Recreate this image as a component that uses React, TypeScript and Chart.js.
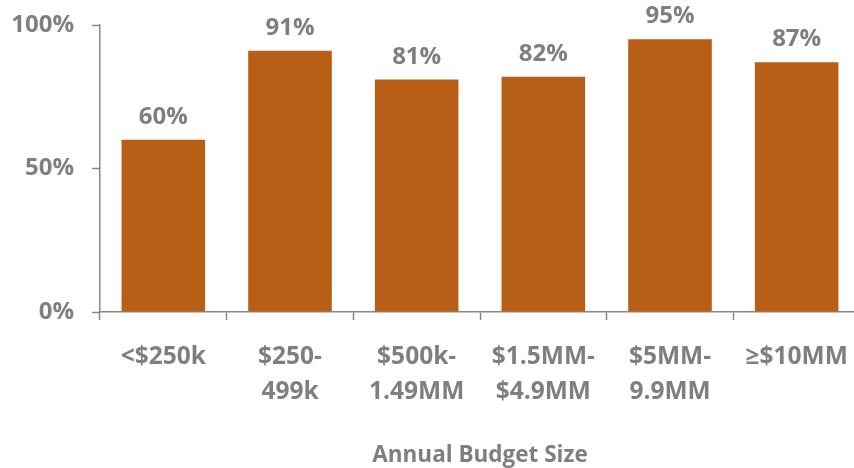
import React, { useEffect, useRef } from "react";
import { Chart, registerables } from "chart.js";

Chart.register(...registerables);

const categories: (string | string[])[] = [
  "<$250k",
  ["$250-", "499k"],
  ["$500k-", "1.49MM"],
  ["$1.5MM-", "$4.9MM"],
  ["$5MM-", "9.9MM"],
  "≥$10MM",
];
const values = [60, 91, 81, 82, 95, 87];
const yTicks = [0, 50, 100];
const axisTitle = "Annual Budget Size";

const BAR = "#B85E16";
const TEXT = "#7F7F7F";
const AXIS = "#888888";
const FONT = "'Open Sans', 'Noto Sans', sans-serif";

const labelPlugin = {
  id: "barLabels",
  afterDatasetsDraw(chart: any) {
    const ctx = chart.ctx;
    const meta = chart.getDatasetMeta(0);
    ctx.save();
    ctx.font = `bold 24px ${FONT}`;
    ctx.fillStyle = TEXT;
    ctx.textAlign = "center";
    ctx.textBaseline = "alphabetic";
    meta.data.forEach((bar: any, i: number) => {
      ctx.fillText(`${values[i]}%`, bar.x, bar.y - 16);
    });
    ctx.restore();
  },
};

export default function App() {
  const ref = useRef<HTMLCanvasElement>(null);
  useEffect(() => {
    document.documentElement.style.overflow = "hidden";
    document.body.style.overflow = "hidden";
    const chart = new Chart(ref.current!, {
      type: "bar",
      data: {
        labels: categories,
        datasets: [
          {
            data: values,
            backgroundColor: BAR,
            borderWidth: 0,
            barPercentage: 0.66,
            categoryPercentage: 1,
          },
        ],
      },
      plugins: [labelPlugin],
      options: {
        animation: false,
        responsive: false,
        devicePixelRatio: 1,
        layout: { padding: { top: 25, right: 10, bottom: 0, left: 0 } },
        plugins: { legend: { display: false }, tooltip: { enabled: false } },
        scales: {
          x: {
            afterFit: (s: any) => {
              s.height = 156;
            },
            grid: {
              display: true,
              offset: true,
              drawOnChartArea: false,
              drawTicks: true,
              tickLength: 8,
              tickWidth: 1.5,
              color: AXIS,
            },
            border: { display: true, color: AXIS, width: 1.5 },
            ticks: {
              color: TEXT,
              font: { family: FONT, size: 24.5, weight: "bold", lineHeight: 1.42 },
              padding: 20,
              maxRotation: 0,
              autoSkip: false,
            },
            title: {
              display: true,
              text: axisTitle,
              color: TEXT,
              font: { family: FONT, size: 22.5, weight: "bold" },
              padding: { top: 0, bottom: -1 },
            },
          },
          y: {
            min: 0,
            max: 100,
            afterFit: (s: any) => {
              s.width = 100;
              s.paddingTop = 0;
              s.paddingBottom = 0;
            },
            afterBuildTicks: (s: any) => {
              s.ticks = yTicks.map((v) => ({ value: v }));
            },
            grid: {
              display: true,
              drawOnChartArea: false,
              drawTicks: true,
              tickLength: 8,
              tickWidth: 1.5,
              color: AXIS,
            },
            border: { display: true, color: AXIS, width: 1.5 },
            ticks: {
              color: TEXT,
              font: { family: FONT, size: 24, weight: "bold" },
              padding: 18,
              callback: (v: any) => `${v}%`,
            },
          },
        },
      },
    });
    return () => chart.destroy();
  }, []);
  return (
    <div style={{ position: "absolute", left: 0, top: 0 }}>
      <canvas ref={ref} width={870} height={468} style={{ display: "block" }} />
    </div>
  );
}
